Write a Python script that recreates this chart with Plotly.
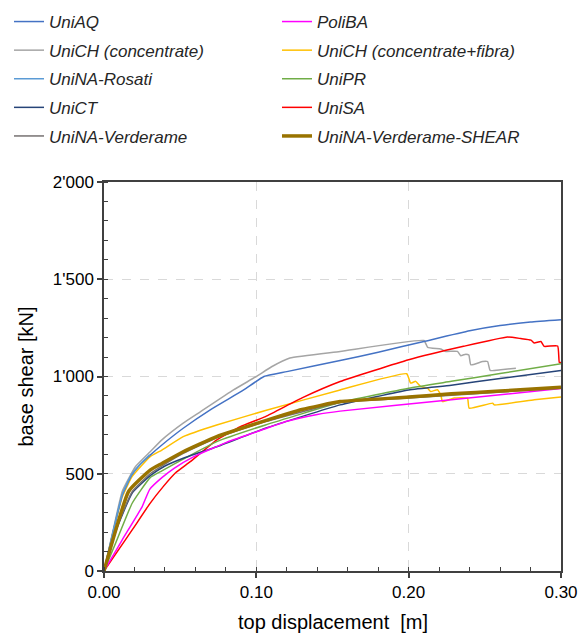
import plotly.graph_objects as go

# ---------------- data ----------------
uniaq_x = [0, 0.006, 0.012, 0.018, 0.024, 0.0303, 0.038, 0.052, 0.07, 0.0917, 0.105, 0.12, 0.155, 0.18, 0.21, 0.24, 0.26, 0.28, 0.30]
uniaq_y = [0, 200, 390, 490, 550, 596, 648, 734, 830, 931, 1000, 1025, 1082, 1125, 1180, 1235, 1262, 1280, 1292]

polyba_x = [0, 0.0118, 0.025, 0.030, 0.038, 0.046, 0.059, 0.08, 0.1, 0.12, 0.14, 0.155, 0.228, 0.30]
polyba_y = [0, 158, 330, 420, 480, 528, 588, 660, 715, 770, 805, 822, 880, 938]

unich_x = [0, 0.006, 0.012, 0.0206, 0.0303, 0.038, 0.052, 0.063, 0.085, 0.1, 0.11, 0.122, 0.155, 0.21,
           0.2125, 0.221, 0.2243, 0.232, 0.2342, 0.2375, 0.2395, 0.2408, 0.2485, 0.2518, 0.2535, 0.2605, 0.2704]
unich_y = [0, 210, 410, 536, 613, 674, 760, 817, 931, 1000, 1050, 1095, 1129, 1185,
           1150, 1141, 1129, 1129, 1107, 1115, 1110, 1060, 1077, 1077, 1031, 1035, 1043]

unichf_x = [0, 0.006, 0.012, 0.0184, 0.0303, 0.038, 0.052, 0.074, 0.106, 0.155, 0.1987,
            0.2013, 0.2046, 0.2079, 0.2123, 0.2145, 0.2189, 0.2211, 0.2222, 0.2298, 0.2386, 0.2397,
            0.2551, 0.2562, 0.2824, 0.30]
unichf_y = [0, 200, 380, 485, 588, 622, 691, 751, 825, 931, 1014,
            966, 975, 948, 940, 923, 932, 906, 871, 889, 889, 837,
            863, 854, 880, 895]

rosati_x = [0, 0.006, 0.012, 0.018, 0.024, 0.030]
rosati_y = [0, 205, 395, 495, 552, 598]

unipr_x = [0, 0.008, 0.0184, 0.0303, 0.038, 0.052, 0.074, 0.106, 0.155, 0.2, 0.228, 0.26, 0.30]
unipr_y = [0, 150, 347, 480, 515, 575, 665, 751, 866, 940, 975, 1015, 1065]

unict_x = [0, 0.008, 0.0184, 0.0303, 0.04, 0.052, 0.074, 0.106, 0.155, 0.2, 0.228, 0.26, 0.30]
unict_y = [0, 210, 400, 490, 540, 580, 639, 734, 854, 931, 955, 990, 1031]

unisa_x = [0, 0.0184, 0.030, 0.039, 0.047, 0.0566, 0.0741, 0.0895, 0.106, 0.13, 0.155, 0.2, 0.236, 0.2649,
           0.2737, 0.2803, 0.2824, 0.2868, 0.2890, 0.2978, 0.2989, 0.30]
unisa_y = [0, 210, 345, 435, 505, 562, 674, 742, 794, 890, 974, 1086, 1155, 1203,
           1195, 1187, 1172, 1180, 1155, 1157, 1072, 1072]

verd_x = [0, 0.008, 0.0184, 0.0303, 0.04, 0.052, 0.074, 0.106, 0.155, 0.2, 0.3]
verd_y = [0, 215, 407, 500, 550, 605, 685, 768, 866, 890, 940]

shear_x = [0, 0.0162, 0.0303, 0.038, 0.052, 0.074, 0.106, 0.13, 0.155, 0.2, 0.228, 0.26, 0.30]
shear_y = [0, 410, 519, 553, 613, 691, 773, 830, 871, 894, 911, 925, 945]

# ---------------- figure ----------------
left = [
    ("UniAQ", uniaq_x, uniaq_y, "#4472C4", 1.5),
    ("UniCH (concentrate)", unich_x, unich_y, "#A5A5A5", 1.5),
    ("UniNA-Rosati", rosati_x, rosati_y, "#5B9BD5", 1.5),
    ("UniCT", unict_x, unict_y, "#264478", 1.5),
    ("UniNA-Verderame", verd_x, verd_y, "#767171", 1.5),
]
right = [
    ("PoliBA", polyba_x, polyba_y, "#FF00FF", 1.5),
    ("UniCH (concentrate+fibra)", unichf_x, unichf_y, "#FFC000", 1.5),
    ("UniPR", unipr_x, unipr_y, "#70AD47", 1.5),
    ("UniSA", unisa_x, unisa_y, "#FF0000", 1.5),
    ("UniNA-Verderame-SHEAR", shear_x, shear_y, "#997300", 3.5),
]
all_names = [n[0] for n in left + right]
left_names = [n[0] for n in left]

fig = go.Figure()
draw_order = [left[1], right[1], left[0], left[2], right[3], right[2], left[3], right[0], left[4], right[4]]
for name, xs, ys, col, w in draw_order:
    lg = "legend" if name in left_names else "legend2"
    fig.add_trace(go.Scatter(x=xs, y=ys, mode="lines", name=name,
                             line=dict(color=col, width=w, shape="spline", smoothing=0.4),
                             legend=lg, legendgroup=name,
                             legendrank=all_names.index(name)))

axis_col = "#404040"
tick_font = dict(family="Liberation Sans, Arial", size=17, color="#000000")
title_font = dict(family="Liberation Sans, Arial", size=20, color="#000000")
leg_font = dict(family="Liberation Sans, Arial", size=17, color="#262626", style="italic")

fig.update_layout(
    width=585, height=633,
    margin=dict(l=104, r=24, t=182, b=62, autoexpand=False),
    paper_bgcolor="white", plot_bgcolor="white",
    separators=".'",
    xaxis=dict(range=[0, 0.3], tickmode="linear", tick0=0, dtick=0.1, tickformat=".2f",
               ticks="outside", ticklen=5, tickwidth=1.5, tickcolor=axis_col,
               showline=True, linecolor=axis_col, linewidth=1.5, mirror=True,
               showgrid=True, gridcolor="#D9D9D9", griddash="dash", gridwidth=1.3,
               zeroline=False, tickfont=tick_font, automargin=False,
               minor=dict(tickmode="linear", tick0=0, dtick=0.02, ticks="inside", ticklen=4,
                          tickwidth=1.2, tickcolor=axis_col, showgrid=False)),
    yaxis=dict(range=[0, 2000], tickmode="linear", tick0=0, dtick=500, tickformat=",d",
               ticks="outside", ticklen=5, tickwidth=1.5, tickcolor=axis_col,
               showline=True, linecolor=axis_col, linewidth=1.5, mirror=True,
               showgrid=True, gridcolor="#D9D9D9", griddash="dash", gridwidth=1.3,
               zeroline=False, tickfont=tick_font, automargin=False,
               minor=dict(tickmode="linear", tick0=0, dtick=100, ticks="inside", ticklen=4,
                          tickwidth=1.2, tickcolor=axis_col, showgrid=False)),
    annotations=[
        dict(text="base shear [kN]", xref="paper", yref="paper",
             x=(25 - 104) / 457, y=0.5, xanchor="center", yanchor="middle",
             textangle=-90, showarrow=False, font=title_font),
        dict(text="top displacement\u00a0\u00a0[m]", xref="paper", yref="paper",
             x=0.5, y=-(622 - 570.7) / 388.7, xanchor="center", yanchor="middle",
             showarrow=False, font=title_font),
    ],
    legend=dict(xref="container", yref="container", x=9 / 585, y=1 - 4 / 633,
                xanchor="left", yanchor="top", orientation="v", font=leg_font,
                tracegroupgap=3.5, itemwidth=30, bgcolor="rgba(0,0,0,0)", traceorder="grouped"),
    legend2=dict(xref="container", yref="container", x=277 / 585, y=1 - 4 / 633,
                 xanchor="left", yanchor="top", orientation="v", font=leg_font,
                 tracegroupgap=3.5, itemwidth=30, bgcolor="rgba(0,0,0,0)", traceorder="grouped"),
    showlegend=True,
)

fig.write_html("out.html")
